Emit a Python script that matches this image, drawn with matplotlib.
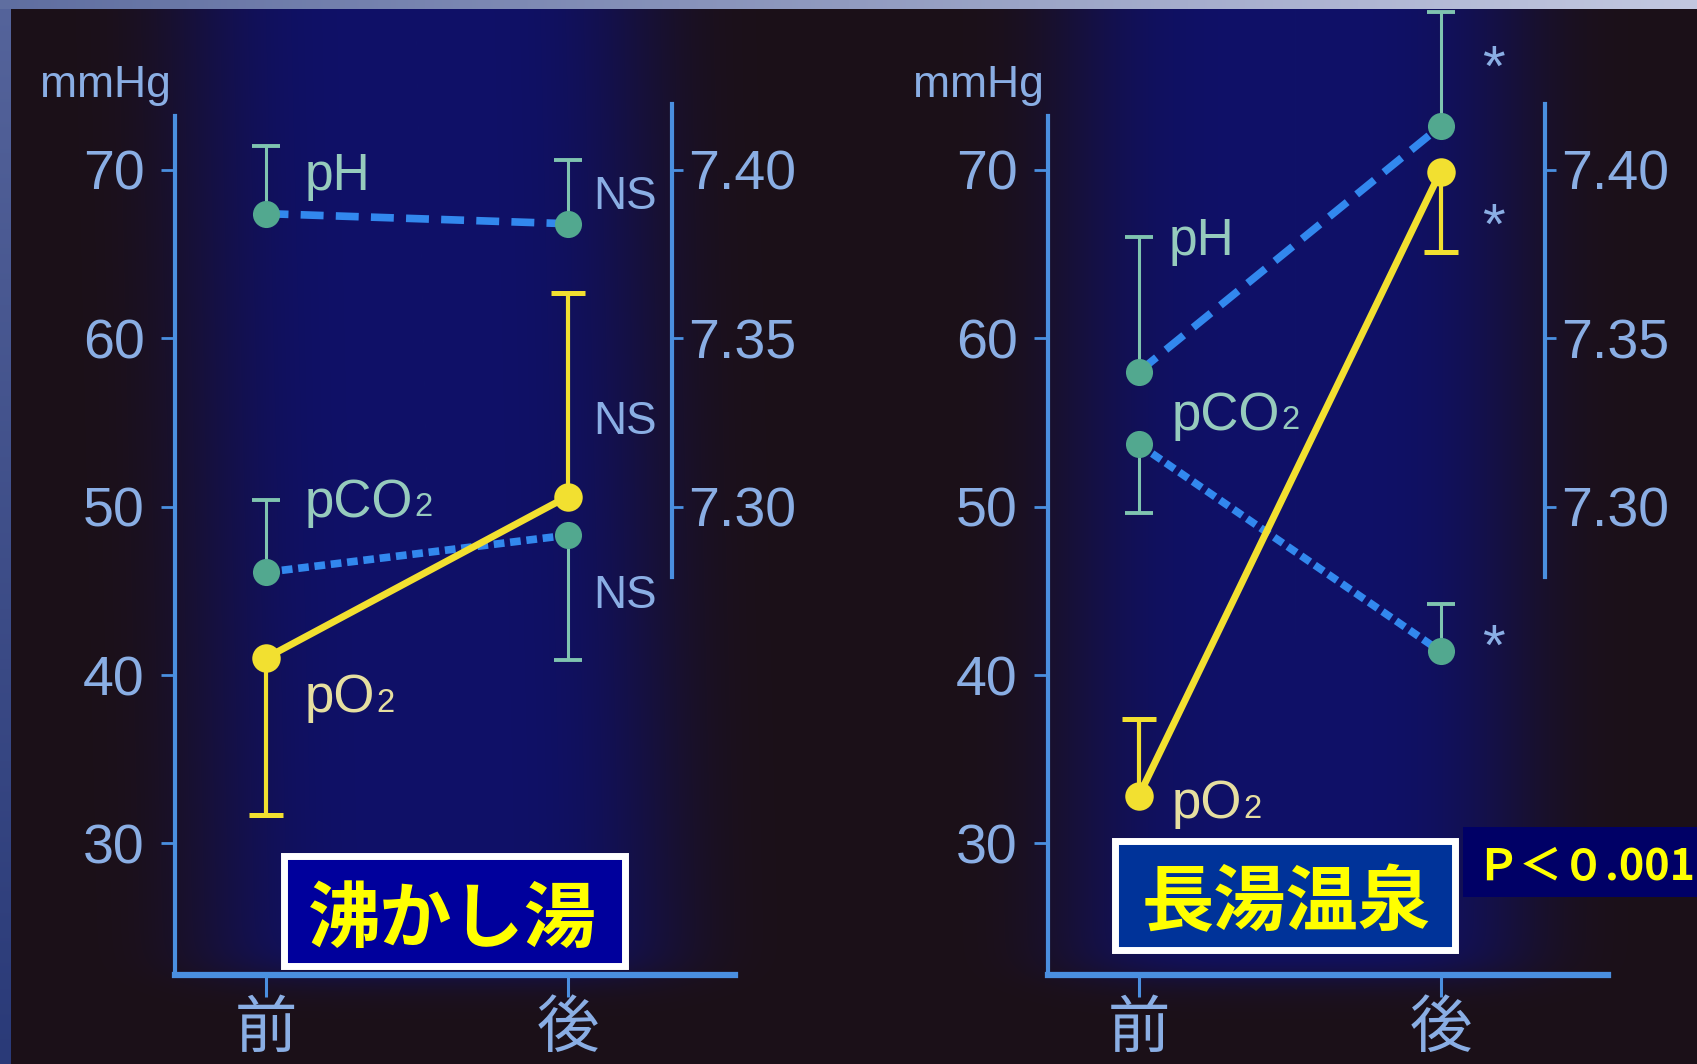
import numpy as np
import matplotlib
matplotlib.use('Agg')
import matplotlib.pyplot as plt
from matplotlib.patches import Rectangle

plt.rcParams['font.family'] = ['Liberation Sans', 'Noto Sans CJK JP', 'DejaVu Sans']

W, H = 1697, 1064

# x categories
x_pos = [0, 1]
x_labels = ['前', '後']
mmhg_ticks = [30, 40, 50, 60, 70]
ph_ticks = [7.30, 7.35, 7.40]

# 沸かし湯  (errors as [below, above])
boil_pH = [7.387, 7.384]
boil_pH_err = [[0, 0], [0.020, 0.019]]
boil_pCO2 = [46.1, 48.3]
boil_pCO2_err = [[0, 7.4], [4.3, 0]]
boil_pO2 = [41.0, 50.6]
boil_pO2_err = [[9.3, 0], [0, 12.1]]
boil_marks = ['NS', 'NS', 'NS']

# 長湯温泉
spring_pH = [7.340, 7.413]
spring_pH_err = [[0, 0], [0.040, 0.034]]
spring_pCO2 = [53.7, 41.4]
spring_pCO2_err = [[4.1, 0], [0, 2.8]]
spring_pO2 = [32.8, 69.9]
spring_pO2_err = [[0, 4.8], [4.6, 0]]
spring_marks = ['*', '*', '*']

AXIS = '#4a8fe0'
TICKTXT = '#8aaee4'
DASH = '#3288ee'
DOT = '#52a88f'
ERR = '#7fc4b0'
GREENTXT = '#96cbbd'
YEL = '#f2e030'
YELTXT = '#e6dfa0'


def background():
    yy, xx = np.mgrid[0:H, 0:W].astype(float)
    base = np.array([28, 16, 24], float)
    glow = np.array([15, 17, 104], float)
    cx1 = 415 + 25 * yy / H
    w1 = np.exp(-(np.abs(xx - cx1) / 235) ** 4)
    w2 = np.exp(-(np.abs(xx - 1295) / 230) ** 4)
    vert = 1 / (1 + np.exp((yy - 975) / 10))
    w = np.clip(w1 + w2, 0, 1) * vert
    img = base + (glow - base) * w[..., None]
    # frame strips
    t = xx[:9, :] / W
    img[:9, :, :] = (np.array([95, 110, 160]) * (1 - t[..., None])
                     + np.array([195, 200, 224]) * t[..., None])
    s = yy[9:, :11] / H
    img[9:, :11, :] = (np.array([85, 100, 155]) * (1 - s[..., None])
                       + np.array([42, 58, 120]) * s[..., None])
    return np.clip(img, 0, 255).astype(np.uint8)


def one_sided(ax, vals, err, color, lw, cap):
    # whiskers only on the side that has a value, with a flat cap at the end
    for x, v, lo, hi in zip(x_pos, vals, err[0], err[1]):
        for d in (-lo, hi):
            if d:
                ax.plot([x, x], [v, v + d], color=color, lw=lw,
                        solid_capstyle='butt', zorder=2)
                ax.plot(x, v + d, marker='_', ms=cap, mew=lw + 0.6,
                        color=color, zorder=2)


def sub_label(ax, x, y, main, sub, color, size):
    t = ax.text(x, y, main, color=color, fontsize=size, va='baseline', zorder=6)
    ax.annotate(sub, xy=(1, 0), xycoords=t, xytext=(1, 0.215 * size),
                textcoords='offset points', color=color,
                fontsize=size * 0.62, va='baseline', ha='left')


def panel(left, pH, pH_err, pCO2, pCO2_err, pO2, pO2_err, marks, spots):
    ax = fig.add_axes([left, 0.0837, 0.3301, 0.9118])
    ax.patch.set_visible(False)
    ax.set_xlim(-0.30, 1.555)
    ax.set_ylim(22.19, 79.8)
    for s in ['top', 'right']:
        ax.spines[s].set_visible(False)
    ax.spines['left'].set_bounds(22.19, 73.2)
    ax.spines['left'].set_color(AXIS)
    ax.spines['left'].set_linewidth(3)
    ax.spines['bottom'].set_color(AXIS)
    ax.spines['bottom'].set_linewidth(4.5)
    ax.set_yticks(mmhg_ticks)
    ax.tick_params(axis='y', direction='out', length=10, width=2, color=AXIS,
                   labelcolor=TICKTXT, labelsize=40, pad=12)
    ax.set_xticks(x_pos, x_labels)
    ax.tick_params(axis='x', direction='out', length=16, width=2.2, color=AXIS,
                   labelcolor=TICKTXT, labelsize=45, pad=0)
    for lab in ax.get_xticklabels():
        lab.set_fontfamily('Noto Sans CJK JP')
    ax.text(-0.53, 74.3, 'mmHg', color=TICKTXT, fontsize=32, ha='center', va='baseline')

    ax2 = ax.twinx()
    ax2.set_ylim(7.16095, 7.449)
    for s in ['top', 'left', 'bottom']:
        ax2.spines[s].set_visible(False)
    ax2.spines['right'].set_position(('data', 1.345))
    ax2.spines['right'].set_bounds(7.279, 7.4195)
    ax2.spines['right'].set_color(AXIS)
    ax2.spines['right'].set_linewidth(3)
    ax2.set_yticks(ph_ticks, [f'{v:.2f}' for v in ph_ticks])
    ax2.tick_params(axis='y', direction='out', length=8, width=2, color=AXIS,
                    labelcolor=TICKTXT, labelsize=40, pad=4)

    # pCO2
    one_sided(ax, pCO2, pCO2_err, ERR, 2.2, 20)
    ax.plot(x_pos, pCO2, color=DASH, lw=5.5, dashes=(1.4, 0.75), zorder=3)
    ax.plot(x_pos, pCO2, 'o', ms=19.5, mfc=DOT, mec='none', zorder=4)
    # pO2
    one_sided(ax, pO2, pO2_err, YEL, 3, 25)
    ax.plot(x_pos, pO2, color=YEL, lw=5, zorder=5)
    ax.plot(x_pos, pO2, 'o', ms=20.5, mfc=YEL, mec='none', zorder=5)
    # pH
    one_sided(ax2, pH, pH_err, ERR, 2.2, 20)
    ax2.plot(x_pos, pH, color=DASH, lw=5.5, dashes=(3.0, 1.6), zorder=3)
    ax2.plot(x_pos, pH, 'o', ms=19.5, mfc=DOT, mec='none', zorder=4)

    ax.text(*spots['pH'], 'pH', color=GREENTXT, fontsize=37, va='baseline')
    sub_label(ax, *spots['pCO2'], 'pCO', '2', GREENTXT, 38)
    sub_label(ax, *spots['pO2'], 'pO', '2', YELTXT, 38)
    for m, key in zip(marks, ['m_pH', 'm_pO2', 'm_pCO2']):
        if m == '*':
            ax.annotate(m, xy=spots[key], xytext=(0, -24), textcoords='offset points',
                        color=TICKTXT, fontsize=42, ha='center', va='baseline')
        else:
            ax.text(*spots[key], m, color=TICKTXT, fontsize=33, va='baseline')
    return ax


def title_box(x0, y0, x1, y1, face, edge='white'):
    lw = 5 if edge else 0
    fig.add_artist(Rectangle((x0 / W, 1 - y1 / H), (x1 - x0) / W, (y1 - y0) / H,
                             transform=fig.transFigure, facecolor=face,
                             edgecolor=edge or face, lw=lw, zorder=10))


fig = plt.figure(figsize=(W / 100, H / 100), dpi=100)
bg = fig.add_axes([0, 0, 1, 1], zorder=-10)
bg.imshow(background(), aspect='auto', interpolation='bilinear')
bg.axis('off')

panel(0.1031, boil_pH, boil_pH_err, boil_pCO2, boil_pCO2_err, boil_pO2, boil_pO2_err,
      boil_marks,
      {'pH': (0.13, 68.8), 'pCO2': (0.13, 49.4), 'pO2': (0.13, 37.8),
       'm_pH': (1.085, 67.7), 'm_pO2': (1.085, 54.3), 'm_pCO2': (1.085, 44.0)})
panel(0.6176, spring_pH, spring_pH_err, spring_pCO2, spring_pCO2_err, spring_pO2,
      spring_pO2_err, spring_marks,
      {'pH': (0.10, 64.95), 'pCO2': (0.11, 54.56), 'pO2': (0.11, 31.5),
       'm_pH': (1.174, 77.0), 'm_pO2': (1.174, 67.57), 'm_pCO2': (1.174, 42.56)})

# panel titles
title_box(283.5, 856, 625, 965.5, '#00009c')
fig.text(452 / W, 1 - 921 / H, '沸かし湯', ha='center', va='center', fontsize=52,
         weight='bold', color='#ffff00', family='Noto Sans CJK JP', zorder=11)
title_box(1115, 841, 1454.5, 950, '#003399')
fig.text(1286 / W, 1 - 904 / H, '長湯温泉', ha='center', va='center', fontsize=52,
         weight='bold', color='#ffff00', family='Noto Sans CJK JP', zorder=11)
title_box(1463, 827, 1697, 897, '#000066', edge=None)
fig.text(1586 / W, 1 - 867 / H, 'Ｐ＜０.001', ha='center', va='center', fontsize=31,
         weight='bold', color='#ffff00', family='Noto Sans CJK JP', zorder=11)

fig.savefig('out.png', dpi=100)
